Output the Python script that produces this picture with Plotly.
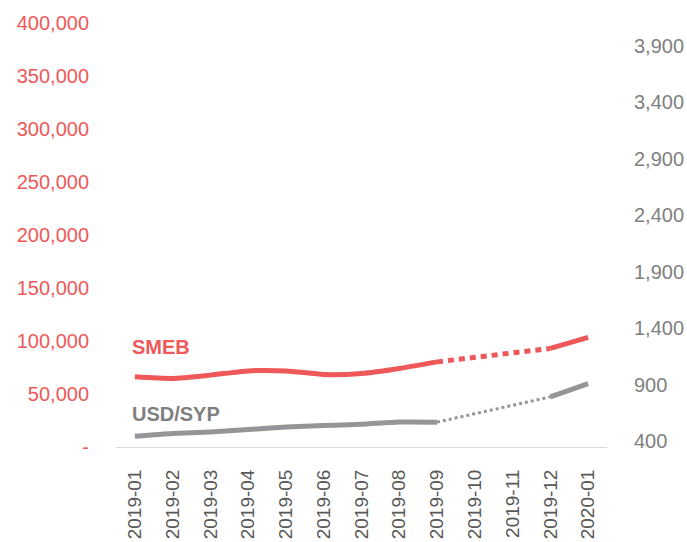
import plotly.graph_objects as go

months = ['2019-01', '2019-02', '2019-03', '2019-04', '2019-05', '2019-06', '2019-07',
          '2019-08', '2019-09', '2019-10', '2019-11', '2019-12', '2020-01']
smeb = [66200, 64700, 67800, 71800, 71800, 68400, 69400, 74100, 80300, None, None, 93000, 103400]
usd_syp = [445, 469, 483, 504, 527, 540, 551, 571, 570, None, None, 793, 911]

left_ticks = [0, 50000, 100000, 150000, 200000, 250000, 300000, 350000, 400000]
left_labels = ['-'] + [f'{v:,}' for v in left_ticks[1:]]
right_ticks = [400, 900, 1400, 1900, 2400, 2900, 3400, 3900]
right_labels = [f'{v:,}' for v in right_ticks]

red = '#EE5859'
grey = '#939598'
font = 'Liberation Sans, Arial, sans-serif'

# estimated months (2019-10, 2019-11) are bridged with a dotted segment
gap_x = [months[8], months[11]]

fig = go.Figure()
fig.add_trace(go.Scatter(x=months, y=smeb, mode='lines', connectgaps=False,
                         line=dict(color=red, width=5, shape='spline', smoothing=0.6)))
fig.add_trace(go.Scatter(x=gap_x, y=[smeb[8], smeb[11]], mode='lines',
                         line=dict(color=red, width=5, dash='6px,5px')))
fig.add_trace(go.Scatter(x=months, y=usd_syp, mode='lines', connectgaps=False, yaxis='y2',
                         line=dict(color=grey, width=5, shape='spline', smoothing=0.6)))
fig.add_trace(go.Scatter(x=gap_x, y=[usd_syp[8], usd_syp[11]], mode='lines', yaxis='y2',
                         line=dict(color=grey, width=3, dash='3px,3px')))

fig.add_annotation(x=0, y=94300, xref='x', yref='y', text='<b>SMEB</b>', showarrow=False,
                   xanchor='left', xshift=-5, font=dict(family=font, size=20, color=red))
fig.add_annotation(x=0, y=30900, xref='x', yref='y', text='<b>USD/SYP</b>', showarrow=False,
                   xanchor='left', xshift=-5, font=dict(family=font, size=20, color='#7F7F7F'))

fig.update_layout(
    width=687, height=542,
    margin=dict(l=116, r=80, t=23, b=95),
    paper_bgcolor='white', plot_bgcolor='white',
    showlegend=False,
    font=dict(family=font, size=20),
    xaxis=dict(type='category', categoryorder='array', categoryarray=months,
               range=[-0.5, 12.5], tickangle=-90, showgrid=False, automargin=False,
               showline=True, linecolor='#D9D9D9', linewidth=1,
               ticks='', ticklabelstandoff=14, tickfont=dict(color='#595959', size=19)),
    yaxis=dict(range=[0, 400000], tickvals=left_ticks, ticktext=left_labels, automargin=False,
               showgrid=False, zeroline=False, ticks='', ticklabelstandoff=26,
               tickfont=dict(color=red, size=20)),
    yaxis2=dict(range=[350, 4100], tickvals=right_ticks, ticktext=right_labels, automargin=False,
                overlaying='y', side='right', showgrid=False, zeroline=False,
                ticks='', ticklabelstandoff=26, tickfont=dict(color='#808080', size=20)),
)

# drop the default 8px body margin so the figure fills the window exactly
fig.write_html('out.html', config={'displayModeBar': False},
               post_script="document.body.style.margin='0';")
